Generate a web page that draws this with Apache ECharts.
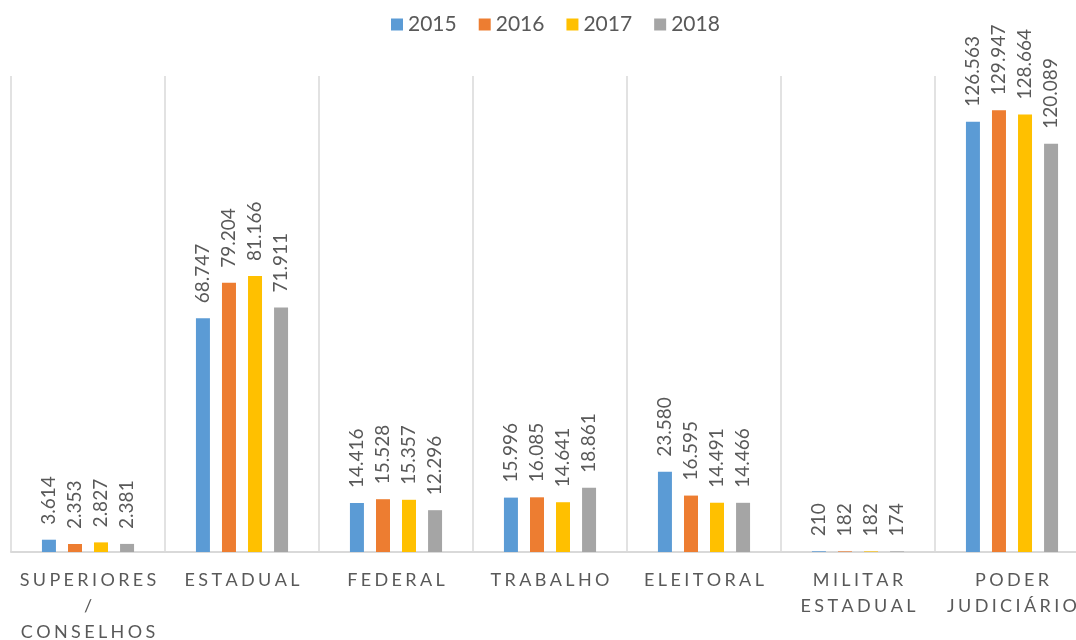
<!DOCTYPE html>
<html><head><meta charset="utf-8">
<script src="https://cdn.jsdelivr.net/npm/echarts@6/dist/echarts.min.js"></script>
<style>html,body{margin:0;padding:0;background:#fff}#c{width:1076px;height:640px}</style>
</head><body><div id="c"></div>
<script>
const categories = ['SUPERIORES\n/\nCONSELHOS','ESTADUAL','FEDERAL','TRABALHO','ELEITORAL','MILITAR\nESTADUAL','PODER\nJUDICIÁRIO'];
const seriesNames = ['2015','2016','2017','2018'];
const v2015 = [3614, 68747, 14416, 15996, 23580, 210, 126563];
const v2016 = [2353, 79204, 15528, 16085, 16595, 182, 129947];
const v2017 = [2827, 81166, 15357, 14641, 14491, 182, 128664];
const v2018 = [2381, 71911, 12296, 18861, 14466, 174, 120089];
const colors = ['#5B9BD5','#ED7D31','#FFC000','#A5A5A5'];
const values = [v2015, v2016, v2017, v2018];

function spaced(s){ return s.split('\n').map(l => l.split('').join('\u2009\u200A')).join('\n'); }
function fmt(v){ return v >= 1000 ? Math.floor(v/1000) + '.' + String(v%1000).padStart(3,'0') : String(v); }

const chart = echarts.init(document.getElementById('c'));
chart.setOption({
  animation: false,
  color: colors,
  legend: {
    top: 9, left: 386,
    itemWidth: 12, itemHeight: 12, itemGap: 22,
    icon: 'rect',
    textStyle: {fontFamily: 'Lato', fontSize: 21, color: '#595959'},
    data: seriesNames
  },
  grid: {left: 11, top: 76, width: 1078, height: 476, containLabel: false, outerBoundsMode: 'none'},
  xAxis: {
    type: 'category', data: categories,
    axisTick: {show: false},
    axisLine: {lineStyle: {color: '#D9D9D9', width: 2}},
    splitLine: {show: true, interval: 0, lineStyle: {color: '#D9D9D9', width: 1.5}},
    axisLabel: {interval: 0, margin: 15, fontFamily: 'Lato', fontSize: 18, color: '#595959', lineHeight: 26,
      formatter: spaced}
  },
  yAxis: {type: 'value', min: 0, max: 140000, show: false, splitLine: {show: false}},
  series: seriesNames.map((n, i) => ({
    name: n, type: 'bar', data: values[i],
    barWidth: 14, barGap: '86%',
    itemStyle: {color: colors[i]},
    label: {show: true, position: 'top', rotate: 90, align: 'left', verticalAlign: 'middle',
      distance: 15, fontFamily: 'Lato', fontSize: 19, color: '#595959',
      formatter: p => fmt(p.value)}
  }))
});
</script></body></html>
